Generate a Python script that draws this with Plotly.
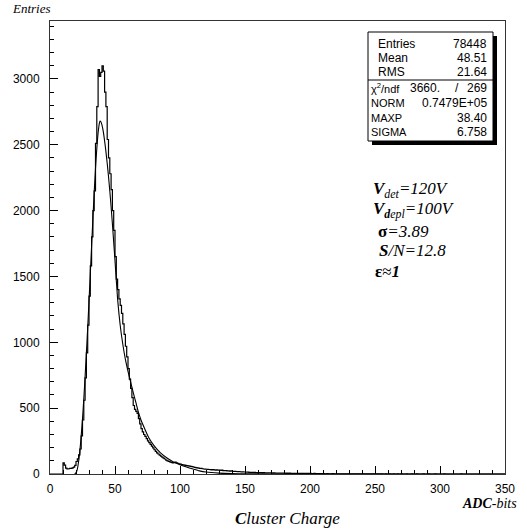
import numpy as np
import plotly.graph_objects as go

# ---------------- data ----------------
BIN_START = 0.0
BIN_WIDTH = 1.0
COUNTS = [
    0, 0, 0, 0, 0, 0, 0, 0, 0, 0,
    85, 68, 45, 38, 40, 42, 43, 46, 52, 65,
    95, 115, 145, 190, 290, 410, 560, 730, 920, 1130,
    1350, 1580, 1800, 2000, 2150, 2510, 2790, 3070, 3020, 3050,
    3100, 3060, 2900, 2790, 2540, 2400, 2280, 2160, 2000, 1850,
    1650, 1480, 1400, 1330, 1280, 1220, 1140, 1060, 970, 890,
    800, 720, 650, 580, 520, 490, 475, 460, 420, 380,
    345, 320, 300, 285, 268, 252, 238, 225, 212, 198,
    184, 172, 160, 152, 144, 136, 128, 121, 114, 106,
    100, 96, 92, 88, 85, 87, 91, 84, 80, 78,
    75, 72, 70, 68, 66, 64, 62, 60, 58, 56,
    53, 51, 49, 47, 45, 43, 42, 40, 38, 37,
    36, 35, 34, 33, 32, 33, 31, 30, 32, 30,
    29, 27, 29, 26, 25, 26, 24, 23, 22, 23,
    21, 20, 21, 19, 18, 19, 17, 16, 17, 15,
    15, 14, 15, 13, 13, 12, 13, 12, 11, 11,
    10, 11, 10, 9, 10, 9, 8, 9, 8, 8,
    8, 7, 8, 7, 7, 6, 7, 6, 6, 7,
    6, 5, 6, 5, 6, 5, 5, 4, 5, 5,
    4, 5, 4, 4, 5, 4, 3, 4, 4, 3,
    4, 3, 3, 4, 3, 3, 2, 3, 3, 2,
    3, 2, 2, 3, 2, 2, 2, 3, 2, 2,
    2, 1, 2, 2, 1, 2, 1, 2, 1, 1,
    2, 1, 1, 2, 1, 1, 1, 2, 1, 1,
    1, 1, 0, 1, 1, 1, 0, 1, 1, 0,
    1, 0, 1, 1, 0, 1, 0, 0, 1, 0,
    0, 1, 0, 0, 1, 0, 0, 1, 0, 0,
    1, 0, 0, 0, 1, 0, 0, 0, 1, 0,
    0, 0, 1, 0, 0, 0, 0, 1, 0, 0,
    0, 1, 0, 0, 0, 0, 1, 0, 0, 0,
    0, 0, 0, 1, 0, 0, 0, 0, 0, 0,
    0, 0, 0, 0, 0, 0, 1, 0, 0, 0,
    0, 0, 0, 0, 0, 0, 0, 0, 0, 0,
    0, 0, 0, 0, 0, 0, 0, 0, 0, 0,
    0, 0, 0, 0, 0, 0, 0, 0, 0, 0,
]

FIT_X = [19, 20, 21, 22, 23, 24, 25, 26, 27, 28, 29, 30, 31, 32, 33, 34, 35, 36, 37, 38, 38.5,
         39, 40, 41, 42, 43, 44, 45, 46, 47, 48, 49, 50, 52, 54, 56, 58, 60, 62, 64, 66, 68,
         70, 73, 76, 80, 85, 90, 95, 100, 105, 110, 115, 120, 130, 140, 150, 170, 200, 250, 350]
FIT_Y = [0, 8, 35, 95, 180, 290, 420, 570, 740, 920, 1110, 1310, 1520, 1730, 1940, 2140, 2320,
         2470, 2590, 2665, 2680,
         2677, 2650, 2600, 2530, 2450, 2360, 2260, 2150, 2030, 1900, 1760, 1620, 1330, 1130,
         985, 870, 780, 700, 620, 545, 470,
         410, 340, 275, 215, 160, 122, 92, 70, 53, 38, 24, 15, 7, 3, 1.5, 0.5, 0, 0, 0]

X_TICKS = [0, 50, 100, 150, 200, 250, 300, 350]
Y_TICKS = [0, 500, 1000, 1500, 2000, 2500, 3000]

STATS_TOP = [("Entries", "78448"), ("Mean", "48.51"), ("RMS", "21.64")]
STATS_FIT = [("NORM", "0.7479E+05"), ("MAXP", "38.40"), ("SIGMA", "6.758")]
CHI2 = ("3660.", "269")

# ---------------- geometry helpers ----------------
W, H = 527, 529
L, R, T, B = 50, 505, 21, 474


def px(xpix):
    return (xpix - L) / (R - L)


def py(ypix):
    return (B - ypix) / (B - T)


edges = BIN_START + BIN_WIDTH * np.arange(len(COUNTS) + 1)
hx = list(edges)
hy = list(COUNTS) + [COUNTS[-1]]

fig = go.Figure()
fig.add_trace(go.Scatter(x=hx, y=hy, mode="lines", line=dict(color="black", width=1.2, shape="hv"),
                         hoverinfo="skip", showlegend=False))
fig.add_trace(go.Scatter(x=FIT_X, y=FIT_Y, mode="lines",
                         line=dict(color="black", width=1.1, shape="spline", smoothing=0.6),
                         hoverinfo="skip", showlegend=False))

tickfont = dict(family="Liberation Sans, Arial, sans-serif", size=12, color="black")
fig.update_xaxes(range=[0, 350], tickvals=X_TICKS, ticks="inside", ticklen=8, tickwidth=1,
                 tickcolor="black", showline=True, linecolor="#333", linewidth=1, mirror=True,
                 showgrid=False, zeroline=False, tickfont=tickfont, ticklabelstandoff=4,
                 minor=dict(dtick=10, ticks="inside", ticklen=4, tickcolor="black", showgrid=False))
fig.update_yaxes(range=[0, 3440], tickvals=Y_TICKS, ticks="inside", ticklen=8, tickwidth=1,
                 tickcolor="black", showline=True, linecolor="#333", linewidth=1, mirror=True,
                 showgrid=False, zeroline=False, tickfont=tickfont, ticklabelstandoff=7,
                 minor=dict(dtick=100, ticks="inside", ticklen=4, tickcolor="black", showgrid=False))

shapes = []
# stats box shadow + box
bx0, bx1, by0, by1 = 368, 493, 32, 141
sh = 4
shapes.append(dict(type="rect", xref="paper", yref="paper", x0=px(bx0 + sh), x1=px(bx1 + sh),
                   y0=py(by1 + sh), y1=py(by0 + sh), fillcolor="black", line=dict(width=0)))
shapes.append(dict(type="rect", xref="paper", yref="paper", x0=px(bx0), x1=px(bx1),
                   y0=py(by1), y1=py(by0), fillcolor="white", line=dict(color="black", width=1)))
shapes.append(dict(type="line", xref="paper", yref="paper", x0=px(bx0), x1=px(bx1),
                   y0=py(80), y1=py(80), line=dict(color="black", width=1)))

annots = []
sfont = dict(family="Liberation Sans, Arial, sans-serif", size=12, color="black")
cfont = dict(family="Liberation Sans, Arial, sans-serif", size=11, color="black")
row_y = [44, 58, 72]
for (lab, val), yy in zip(STATS_TOP, row_y):
    annots.append(dict(x=px(376), y=py(yy), xref="paper", yref="paper", text=lab, showarrow=False,
                       xanchor="left", yanchor="middle", font=sfont))
    annots.append(dict(x=px(489), y=py(yy), xref="paper", yref="paper", text=val, showarrow=False,
                       xanchor="right", yanchor="middle", font=sfont))
annots.append(dict(x=px(369), y=py(88), xref="paper", yref="paper", text="χ<sup>2</sup>/ndf",
                   showarrow=False, xanchor="left", yanchor="middle", font=cfont))
annots.append(dict(x=px(408), y=py(88), xref="paper", yref="paper", text=CHI2[0],
                   showarrow=False, xanchor="left", yanchor="middle", font=sfont))
annots.append(dict(x=px(457), y=py(88), xref="paper", yref="paper", text="/",
                   showarrow=False, xanchor="center", yanchor="middle", font=sfont))
annots.append(dict(x=px(489), y=py(88), xref="paper", yref="paper", text=CHI2[1],
                   showarrow=False, xanchor="right", yanchor="middle", font=sfont))
for (lab, val), yy in zip(STATS_FIT, [103, 118, 132]):
    annots.append(dict(x=px(369), y=py(yy), xref="paper", yref="paper", text=lab, showarrow=False,
                       xanchor="left", yanchor="middle", font=cfont))
    annots.append(dict(x=px(489), y=py(yy), xref="paper", yref="paper", text=val, showarrow=False,
                       xanchor="right", yanchor="middle", font=sfont))

serif = "Liberation Serif, Times New Roman, serif"
tfont = dict(family=serif, size=17, color="black")
notes = [
    (371, 190, "<b><i>V</i></b><sub><i>det</i></sub><i>=120V</i>"),
    (371, 210, "<b><i>V</i></b><sub><b><i>d</i></b><i>epl</i></sub><i>=100V</i>"),
    (376, 231, "<b>σ</b><i>=3.89</i>"),
    (377, 251, "<b><i>S</i></b><i>/N=12.8</i>"),
    (373, 271, "<b>ε</b>≈<b><i>1</i></b>"),
]
for xx, yy, txt in notes:
    annots.append(dict(x=px(xx), y=py(yy), xref="paper", yref="paper", text=txt, showarrow=False,
                       xanchor="left", yanchor="middle", font=tfont))

annots.append(dict(x=px(10), y=py(8), xref="paper", yref="paper", text="<i>Entries</i>",
                   showarrow=False, xanchor="left", yanchor="middle",
                   font=dict(family=serif, size=13, color="black")))
annots.append(dict(x=px(519), y=py(504), xref="paper", yref="paper",
                   text="<b><i>ADC</i></b><i>-bits</i>", showarrow=False, xanchor="right",
                   yanchor="middle", font=dict(family=serif, size=14, color="black")))
annots.append(dict(x=px(287), y=py(518), xref="paper", yref="paper",
                   text="<b><i>C</i></b><i>luster Charge</i>", showarrow=False, xanchor="center",
                   yanchor="middle", font=dict(family=serif, size=17, color="black")))

fig.update_layout(width=W, height=H, margin=dict(l=L, r=W - R, t=T, b=H - B),
                  paper_bgcolor="white", plot_bgcolor="white", shapes=shapes, annotations=annots,
                  showlegend=False)

fig.write_html("out.html")
